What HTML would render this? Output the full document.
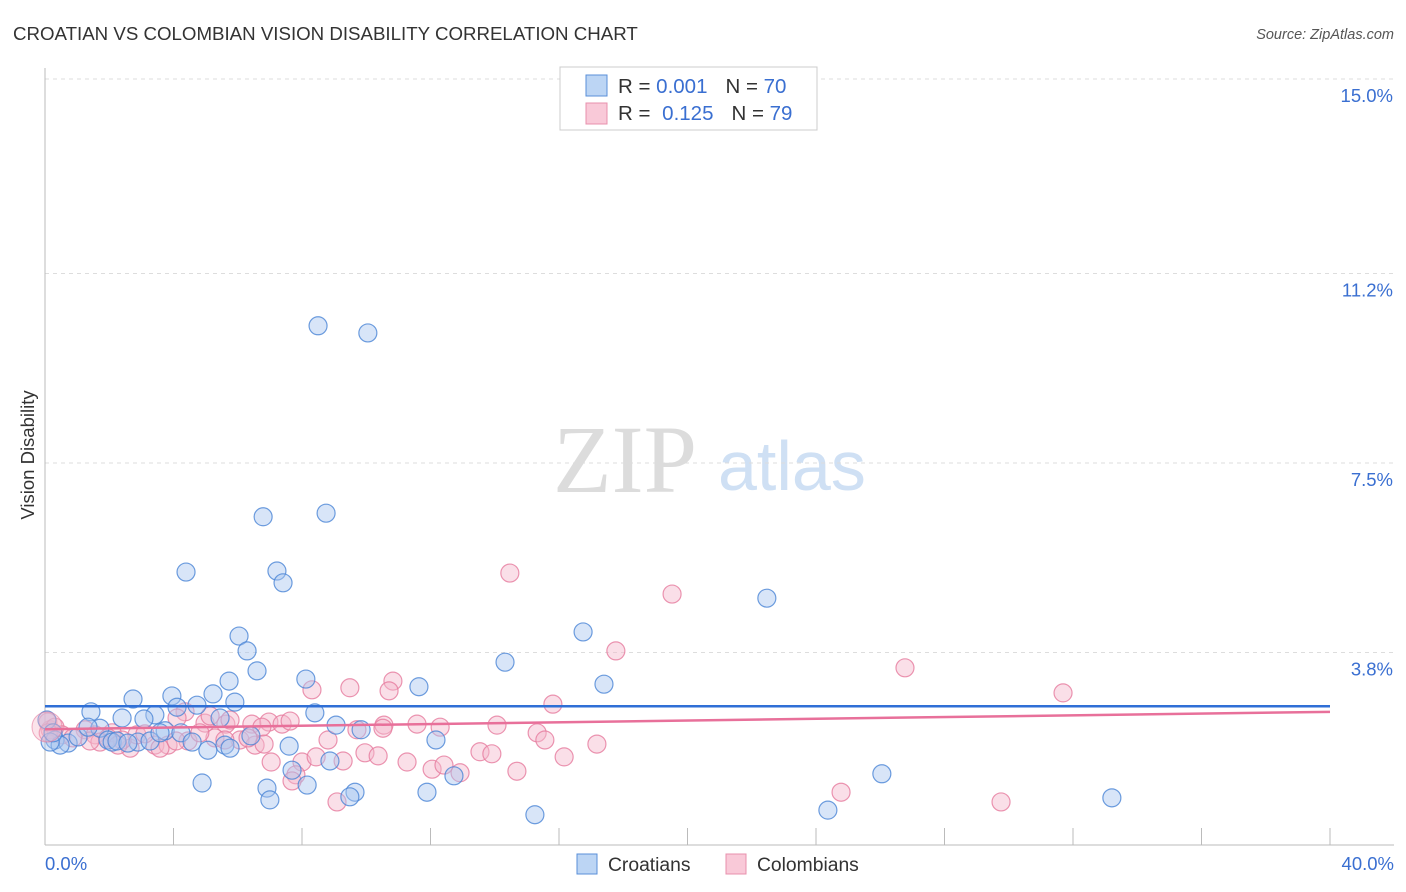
<!DOCTYPE html>
<html><head><meta charset="utf-8"><style>
body{margin:0;background:#fff;font-family:"Liberation Sans",sans-serif;}
svg{display:block}
</style></head><body>
<svg id="chart" width="1406" height="892" xmlns="http://www.w3.org/2000/svg">
<text x="13" y="40" font-size="18.7" fill="#333">CROATIAN VS COLOMBIAN VISION DISABILITY CORRELATION CHART</text>
<text x="1394" y="39" font-size="14.5" fill="#555" font-style="italic" text-anchor="end">Source: ZipAtlas.com</text>
<g>
<text x="553" y="492" font-size="96" font-family="Liberation Serif,serif" fill="#dcdcdc">ZIP</text>
<text x="718" y="490" font-size="70" fill="#cfe0f4">atlas</text>
</g>
<g id="grid"></g>
<g id="axes"></g>
<g id="pts"></g>
<g id="trend"></g>
<text x="34" y="455" font-size="18.5" fill="#333" text-anchor="middle" transform="rotate(-90 34 455)">Vision Disability</text>
<text x="45" y="870" font-size="18.5" fill="#3a6fd1">0.0%</text>
<text x="1394" y="870" font-size="18.5" fill="#3a6fd1" text-anchor="end">40.0%</text>
<g>
<rect x="560" y="67" width="257" height="63" fill="#fff" stroke="#ccc"/>
<rect x="586" y="75" width="21" height="21" fill="#bcd5f4" stroke="#5a8fd8"/>
<rect x="586" y="103" width="21" height="21" fill="#f9c9d8" stroke="#e890ad"/>
<text x="618" y="93" font-size="20.5" fill="#333">R = <tspan fill="#3a6fd1">0.001</tspan><tspan dx="18">N = </tspan><tspan fill="#3a6fd1">70</tspan></text>
<text x="618" y="120" font-size="20.5" fill="#333">R = <tspan dx="6" fill="#3a6fd1">0.125</tspan><tspan dx="18">N = </tspan><tspan fill="#3a6fd1">79</tspan></text>
</g>
<g>
<rect x="577" y="854" width="20" height="20" fill="#bcd5f4" stroke="#5a8fd8"/>
<text x="608" y="871" font-size="19.3" fill="#333">Croatians</text>
<rect x="726" y="854" width="20" height="20" fill="#f9c9d8" stroke="#e890ad"/>
<text x="757" y="871" font-size="19.3" fill="#333">Colombians</text>
</g>
</svg>
<script>
const yTicks=[3.8,7.5,11.2,15.0];
const yTickLabels=["3.8%","7.5%","11.2%","15.0%"];
const xTicks=[0,4,8,12,16,20,24,28,32,36,40];
const croX=[8.50,10.05,6.79,8.75,4.39,7.22,7.41,22.47,6.04,16.75,6.29,14.32,6.60,17.40,8.12,11.64,2.74,3.95,5.23,5.73,5.91,4.73,4.11,1.43,2.40,3.42,5.45,8.40,3.08,9.06,9.84,1.71,3.74,4.23,6.41,12.17,0.31,7.60,1.96,0.72,0.47,2.89,2.09,4.58,5.60,5.07,8.87,7.69,26.05,4.89,8.16,12.73,6.91,7.00,9.65,9.49,11.89,15.25,24.37,33.21,0.16,1.03,3.27,3.58,2.24,2.58,1.34,5.76,0.06,0.25];
const croY=[10.18,10.04,6.45,6.52,5.37,5.39,5.16,4.86,4.12,4.20,3.83,3.61,3.44,3.18,3.28,3.13,2.89,2.95,2.99,3.24,2.83,2.77,2.73,2.64,2.52,2.58,2.52,2.62,2.50,2.38,2.29,2.32,2.27,2.23,2.17,2.09,2.09,1.97,2.09,2.03,1.99,2.05,2.05,2.05,1.99,1.89,1.68,1.50,1.43,1.25,1.21,1.39,1.15,0.92,1.07,0.98,1.07,0.63,0.72,0.96,2.05,2.15,2.07,2.23,2.07,2.03,2.34,1.93,2.48,2.23];
const colX=[14.47,19.52,17.77,26.77,31.69,10.83,8.31,9.49,10.71,15.81,4.36,4.98,5.63,6.44,6.97,7.38,10.55,11.58,12.30,15.32,15.56,17.18,14.07,7.63,8.81,6.75,9.71,10.52,9.96,10.37,7.04,8.00,8.44,9.28,11.27,12.05,12.42,12.92,13.54,13.91,14.69,16.16,0.16,0.09,0.31,1.25,1.56,2.09,2.65,3.42,3.83,4.45,5.29,6.07,6.54,6.82,2.86,0.53,0.87,4.82,5.14,5.76,2.40,3.11,4.11,7.81,9.09,24.78,29.76,7.69,1.96,3.58,6.32,5.60,1.71,2.27,1.40,4.08,0.10];
const colY=[5.35,4.94,3.83,3.50,3.01,3.24,3.07,3.11,3.05,2.79,2.64,2.42,2.40,2.40,2.44,2.40,2.38,2.40,2.34,2.23,2.09,2.01,2.38,2.46,2.09,2.34,2.29,2.32,1.84,1.78,1.66,1.66,1.76,1.68,1.66,1.52,1.60,1.45,1.86,1.82,1.48,1.76,2.29,2.44,2.34,2.29,2.19,2.23,1.93,1.99,1.99,2.07,2.13,2.09,1.99,2.01,2.19,2.19,2.13,2.23,2.56,2.48,2.09,2.21,2.52,1.41,0.88,1.07,0.88,1.29,2.13,1.93,2.13,2.09,2.05,1.99,2.07,2.07,2.23];
const croTrend=[2.75,2.75];
const colTrend=[2.30,2.64];
const NS="http://www.w3.org/2000/svg";
const xS=v=>45+v*(1285/40);
const yS=v=>847-v*51.2;
function mk(tag,attrs,parent){const e=document.createElementNS(NS,tag);for(const k in attrs)e.setAttribute(k,attrs[k]);parent.appendChild(e);return e;}
const grid=document.getElementById('grid'),axes=document.getElementById('axes'),pts=document.getElementById('pts'),trend=document.getElementById('trend');
yTicks.forEach((t,i)=>{
 const l=mk('line',{x1:45,x2:1394,y1:yS(t),y2:yS(t),stroke:'#ddd','stroke-dasharray':'4 4'},grid);
 
 
 const tx=mk('text',{x:1393,y:yS(t)+23,'font-size':18.5,fill:'#3a6fd1','text-anchor':'end'},grid);
 tx.textContent=yTickLabels[i];
 
 
});
const ax=mk('line',{x1:45,x2:45,y1:68,y2:845,stroke:'#bbb'},axes);


const bx=mk('line',{x1:45,x2:1394,y1:845,y2:845,stroke:'#bbb'},axes);


xTicks.forEach(t=>{
 const l=mk('line',{x1:xS(t),x2:xS(t),y1:828,y2:845,stroke:'#bbb'},axes);
 
 
});
function dots(X,Y,fill,stroke,name){
 X.forEach((x,i)=>{
  const c=mk('circle',{cx:xS(x),cy:yS(Y[i]),r:9,fill:fill,'fill-opacity':0.45,stroke:stroke,'stroke-opacity':0.8,'stroke-width':1.2},pts);
  
  
 });
}
dots(colX,colY,'#f5b8cb','#e67a9d','point-colombians');
dots(croX,croY,'#a8c6ef','#4a84d6','point-croatians');
const bc=mk('circle',{cx:47,cy:727,r:15,fill:'#f5b8cb','fill-opacity':0.4,stroke:'#e67a9d','stroke-opacity':0.6},pts);


const t1=mk('line',{x1:xS(0),x2:xS(40),y1:yS(croTrend[0]),y2:yS(croTrend[1]),stroke:'#2f6fd6','stroke-width':2.5},trend);


const t2=mk('line',{x1:xS(0),x2:xS(40),y1:yS(colTrend[0]),y2:yS(colTrend[1]),stroke:'#e8709a','stroke-width':2.5},trend);


</script>
</body></html>
